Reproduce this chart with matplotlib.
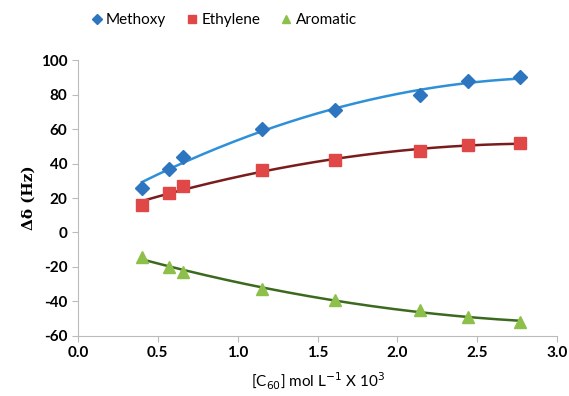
import numpy as np
import matplotlib
matplotlib.use('Agg')
import matplotlib.pyplot as plt

# data
conc = [0.40, 0.57, 0.66, 1.15, 1.61, 2.14, 2.44, 2.77]
methoxy = [26, 37, 44, 60, 71, 80, 88, 90]
ethylene = [16, 23, 27, 36, 42, 47, 51, 52]
aromatic = [-14, -20, -23, -33, -39, -45, -49, -52]
xticks = [0.0, 0.5, 1.0, 1.5, 2.0, 2.5, 3.0]
yticks = [-60, -40, -20, 0, 20, 40, 60, 80, 100]

plt.rcParams['font.family'] = ['Lato', 'DejaVu Sans']

fig = plt.figure(figsize=(5.69, 3.96), dpi=100)
ax = fig.add_axes([0.137, 0.152, 0.842, 0.696])

series = [
    ('Methoxy', methoxy, 'D', '#2E75C0', '#2E90D8', 7.5),
    ('Ethylene', ethylene, 's', '#E04848', '#7A1C1C', 9),
    ('Aromatic', aromatic, '^', '#8CC04A', '#3B6A1E', 9),
]

xs = np.linspace(min(conc), max(conc), 200)
for name, vals, mk, mc, lc, ms in series:
    # excel style 2nd order polynomial trend line
    p = np.polyfit(conc, vals, 2)
    ax.plot(xs, np.polyval(p, xs), color=lc, lw=1.8, zorder=2)
    ax.plot(conc, vals, mk, color=mc, ms=ms, label=name, zorder=3, linestyle='none')

ax.set_xlim(0, 3.0)
ax.set_ylim(-60, 100)
ax.set_xticks(xticks)
ax.set_yticks(yticks)
ax.set_xticklabels([f'{v:.1f}' for v in xticks], fontweight='bold', fontsize=11)
ax.set_yticklabels([str(v) for v in yticks], fontweight='bold', fontsize=11)

for s in ['top', 'right']:
    ax.spines[s].set_visible(False)
for s in ['left', 'bottom']:
    ax.spines[s].set_color('#BBBBBB')
ax.tick_params(direction='out', color='#BBBBBB', length=4)

ax.set_xlabel('[C$_{60}$] mol L$^{-1}$ X 10$^{3}$', fontsize=11, labelpad=8)
ax.set_ylabel('Δδ (Hz)', fontsize=11, fontweight='bold', family='DejaVu Serif')

ax.legend(loc='upper left', bbox_to_anchor=(-0.005, 1.22), ncol=3, frameon=False,
          fontsize=11, handletextpad=0.1, columnspacing=1.2, markerscale=0.65,
          handlelength=1.0)

plt.savefig('out.png', dpi=100)
